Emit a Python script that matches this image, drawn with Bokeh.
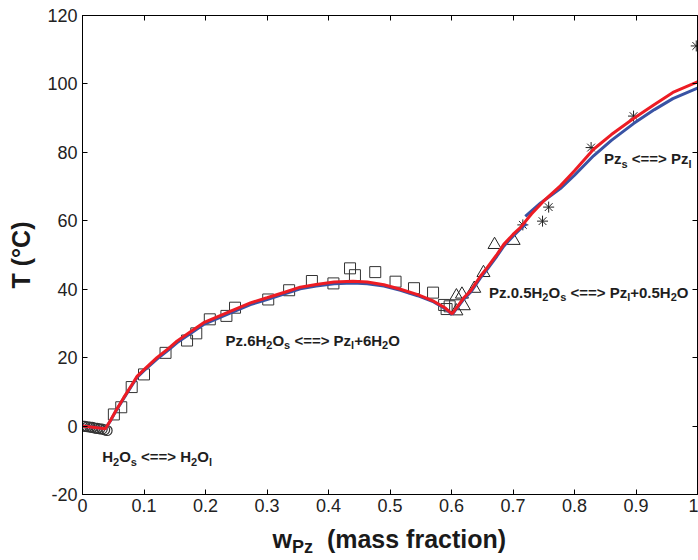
import math
from bokeh.plotting import figure
from bokeh.models import Label, LinearAxis, FixedTicker, Range1d
from bokeh.layouts import column
from bokeh.core.properties import value
from bokeh.embed import file_html
from bokeh.resources import INLINE

# ---------------- data ----------------
x_ticks = [0, 0.1, 0.2, 0.3, 0.4, 0.5, 0.6, 0.7, 0.8, 0.9, 1]
x_tick_labels = ["0", "0.1", "0.2", "0.3", "0.4", "0.5", "0.6", "0.7", "0.8", "0.9", "1"]
y_ticks = [-20, 0, 20, 40, 60, 80, 100, 120]
y_tick_labels = ["-20", "0", "20", "40", "60", "80", "100", "120"]

# H2O(s) experimental points (circles)
ice_x = [0.000, 0.004, 0.008, 0.012, 0.016, 0.020, 0.024, 0.028, 0.032, 0.036, 0.040]
ice_y = [0.0, -0.1, -0.2, -0.3, -0.4, -0.6, -0.7, -0.8, -0.9, -1.1, -1.3]

# Pz.6H2O(s) experimental points (squares)
hex_x = [0.051, 0.063, 0.080, 0.100, 0.135, 0.170, 0.185, 0.207, 0.234, 0.248,
         0.302, 0.336, 0.373, 0.408, 0.435, 0.443, 0.476, 0.509, 0.539, 0.570,
         0.588, 0.592, 0.597]
hex_y = [3.4, 5.5, 11.4, 15.1, 21.4, 25.0, 27.1, 31.2, 32.2, 34.6,
         37.0, 39.7, 42.4, 41.7, 46.1, 44.1, 45.0, 42.2, 40.3, 39.0,
         35.4, 34.2, 35.0]

# Pz.0.5H2O(s) experimental points (triangles)
hemi_x = [0.608, 0.617, 0.620, 0.608, 0.637, 0.652, 0.670, 0.701]
hemi_y = [38.0, 38.5, 35.1, 33.6, 40.2, 44.8, 53.0, 54.2]

# Pz(s) experimental points (asterisks)
anh_x = [0.716, 0.748, 0.758, 0.827, 0.896, 0.998]
anh_y = [58.8, 59.9, 64.0, 81.4, 90.6, 111.1]

# model 1 (red)
red_x = [0.0, 0.037, 0.045, 0.054, 0.067, 0.08, 0.089, 0.10, 0.121, 0.14, 0.154, 0.175,
         0.197, 0.22, 0.241, 0.273, 0.30, 0.33, 0.354, 0.38, 0.409, 0.44, 0.463, 0.49,
         0.517, 0.545, 0.571, 0.59, 0.601,
         0.62, 0.631, 0.647, 0.658, 0.674, 0.685, 0.70, 0.712,
         0.73, 0.75, 0.777, 0.80, 0.831, 0.86, 0.896, 0.93, 0.96, 1.0]
red_y = [0.0, -0.8, 1.5, 4.4, 8.3, 12.0, 14.6, 16.5, 20.0, 22.7, 24.9, 27.5,
         30.2, 32.0, 33.6, 36.0, 37.5, 39.2, 40.6, 41.4, 42.1, 42.3, 42.1, 41.3,
         40.0, 38.4, 36.5, 34.5, 32.8,
         37.5, 39.5, 43.8, 46.3, 50.2, 53.1, 56.0, 58.0,
         62.0, 65.8, 70.2, 74.6, 80.9, 85.2, 89.9, 94.0, 97.5, 100.6]

# model 2 (blue), three branches
blue_a_x = [0.0, 0.037, 0.045, 0.054, 0.067, 0.08, 0.089, 0.10, 0.121, 0.14, 0.154, 0.175,
            0.197, 0.22, 0.241, 0.273, 0.30, 0.33, 0.354, 0.38, 0.409, 0.44, 0.463, 0.49,
            0.517, 0.545, 0.571, 0.59, 0.601]
blue_a_y = [0.0, -0.8, 1.4, 4.3, 8.1, 11.8, 14.3, 16.2, 19.6, 22.3, 24.4, 27.0,
            29.7, 31.5, 33.1, 35.5, 37.0, 38.7, 40.1, 40.9, 41.6, 41.8, 41.6, 40.9,
            39.7, 38.1, 36.3, 34.3, 32.6]
blue_b_x = [0.601, 0.62, 0.631, 0.647, 0.658, 0.674, 0.685, 0.70, 0.712, 0.722]
blue_b_y = [32.6, 37.1, 39.1, 43.3, 45.8, 49.7, 52.6, 55.5, 57.6, 59.2]
blue_c_x = [0.72, 0.745, 0.777, 0.80, 0.831, 0.86, 0.896, 0.93, 0.96, 1.0]
blue_c_y = [61.3, 65.2, 69.4, 73.3, 79.0, 83.5, 88.4, 92.5, 95.7, 98.8]

# ---------------- main figure ----------------
xr = Range1d(0, 1)
p = figure(width=698, height=520, x_range=xr, y_range=Range1d(-20, 120),
           output_backend="svg", toolbar_location=None,
           min_border_left=82, min_border_right=1, min_border_top=15, min_border_bottom=26)
p.xgrid.visible = False
p.ygrid.visible = False
p.outline_line_color = "black"
p.background_fill_color = "white"
p.border_fill_color = "white"

TICK_FONT = "Liberation Sans"

def style_axis(ax, ticks, labels, show_labels=True):
    ax.ticker = FixedTicker(ticks=ticks)
    ax.major_label_overrides = {t: l for t, l in zip(ticks, labels)}
    ax.major_tick_in = 5
    ax.major_tick_out = 0
    ax.minor_tick_line_color = None
    ax.axis_line_color = "black"
    ax.major_tick_line_color = "black"
    ax.major_label_text_font = TICK_FONT
    if show_labels:
        ax.major_label_text_color = "#222222"
        ax.major_label_text_font_size = "18px"
        ax.major_label_standoff = 4
    else:
        ax.major_label_text_color = None
        ax.major_label_text_font_size = "1px"
        ax.major_label_standoff = 0

style_axis(p.xaxis[0], x_ticks, x_tick_labels)
style_axis(p.yaxis[0], y_ticks, y_tick_labels)
p.yaxis[0].major_label_standoff = 5
top_ax = LinearAxis()
style_axis(top_ax, x_ticks, x_tick_labels, show_labels=False)
p.add_layout(top_ax, "above")
right_ax = LinearAxis()
style_axis(right_ax, y_ticks, y_tick_labels, show_labels=False)
p.add_layout(right_ax, "right")

# y axis title
yax = p.yaxis[0]
yax.axis_label = "T (°C)"
yax.axis_label_text_font = "Liberation Sans"
yax.axis_label_text_font_style = "bold"
yax.axis_label_text_font_size = "25px"
yax.axis_label_text_color = "#1a1a1a"
yax.axis_label_standoff = 9

# markers
p.scatter(ice_x, ice_y, marker="circle", size=10, fill_color=None, line_color="#333333", line_width=1.2)
p.scatter(hex_x, hex_y, marker="square", size=11, fill_color=None, line_color="#333333", line_width=1)
p.scatter(hemi_x, hemi_y, marker="triangle", size=13, fill_color=None, line_color="#222222", line_width=1)
p.scatter(anh_x, anh_y, marker="asterisk", size=11, line_color="#222222", line_width=1)

# model lines
BLUE = "#3953a4"
RED = "#ed1c24"
p.line(blue_a_x, blue_a_y, line_color=BLUE, line_width=3)
p.line(blue_b_x, blue_b_y, line_color=BLUE, line_width=3)
p.line(blue_c_x, blue_c_y, line_color=BLUE, line_width=3)
p.line(red_x, red_y, line_color=RED, line_width=3)

# ---------------- texts ----------------
W = {' ': 278, '(': 333, ')': 333, '+': 584, '.': 278, '<': 584, '=': 584, '>': 584,
     'C': 722, 'H': 722, 'O': 778, 'P': 667, 'T': 611, 'a': 556, 'c': 556, 'f': 333,
     'i': 278, 'l': 278, 'm': 889, 'n': 611, 'o': 611, 'r': 389, 's': 556, 't': 333,
     'w': 778, 'z': 500, '°': 400}
for d in "0123456789":
    W[d] = 556

def tw(s, size):
    return sum(W.get(c, 556) for c in s) * size / 1000.0

def rich(x, y, parts, size=15, sub=11, drop=5, color="#1e1e1e"):
    off = 0.0
    for txt, kind in parts:
        fs = size if kind == "n" else sub
        lead = len(txt) - len(txt.lstrip(" "))
        off += tw(" " * lead, fs)
        body = txt.lstrip(" ")
        p.add_layout(Label(x=x, y=y, x_offset=off, y_offset=0 if kind == "n" else -drop,
                           text=body, text_font="Liberation Sans", text_font_style="bold",
                           text_font_size=f"{fs}px", text_color=color,
                           text_baseline="alphabetic", text_align="left"))
        off += tw(body, fs)

rich(0.032, -9.0, [("H", "n"), ("2", "s"), ("O", "n"), ("s", "s"), (" <==> H", "n"),
                   ("2", "s"), ("O", "n"), ("l", "s")])
rich(0.2325, 25.1, [("Pz.6H", "n"), ("2", "s"), ("O", "n"), ("s", "s"), (" <==> Pz", "n"),
                    ("l", "s"), ("+6H", "n"), ("2", "s"), ("O", "n")])
rich(0.661, 39.1, [("Pz.0.5H", "n"), ("2", "s"), ("O", "n"), ("s", "s"), (" <==> Pz", "n"),
                   ("l", "s"), ("+0.5H", "n"), ("2", "s"), ("O", "n")])
rich(0.848, 78.2, [("Pz", "n"), ("s", "s"), (" <==> Pz", "n"), ("l", "s")])

# ---------------- x axis title strip (w_Pz (mass fraction)) ----------------
q = figure(width=698, height=40, x_range=xr, y_range=Range1d(0, 40),
           output_backend="svg", toolbar_location=None,
           x_axis_type=None, y_axis_type=None,
           min_border_left=82, min_border_right=1, min_border_top=0, min_border_bottom=0)
q.xgrid.visible = False
q.ygrid.visible = False
q.outline_line_color = None
q.background_fill_color = "white"
q.border_fill_color = "white"

def rich_q(x, y, parts, size, sub, drop, color="#1a1a1a"):
    off = 0.0
    for txt, kind in parts:
        fs = size if kind == "n" else sub
        lead = len(txt) - len(txt.lstrip(" "))
        off += tw(" " * lead, fs)
        body = txt.lstrip(" ")
        q.text(x=[x], y=[y if kind == "n" else y - drop], text=[body], x_offset=off,
               text_font=value("Liberation Sans"), text_font_style="bold",
               text_font_size=value(f"{fs}px"), text_color=color,
               text_baseline="alphabetic", text_align="left")
        off += tw(body, fs)

rich_q(0.309, 21.5, [("w", "n"), ("Pz", "s"), ("  (mass fraction)", "n")], size=25, sub=18, drop=8)

layout = column(p, q, spacing=0)
open("out.html", "w").write(file_html(layout, INLINE))
